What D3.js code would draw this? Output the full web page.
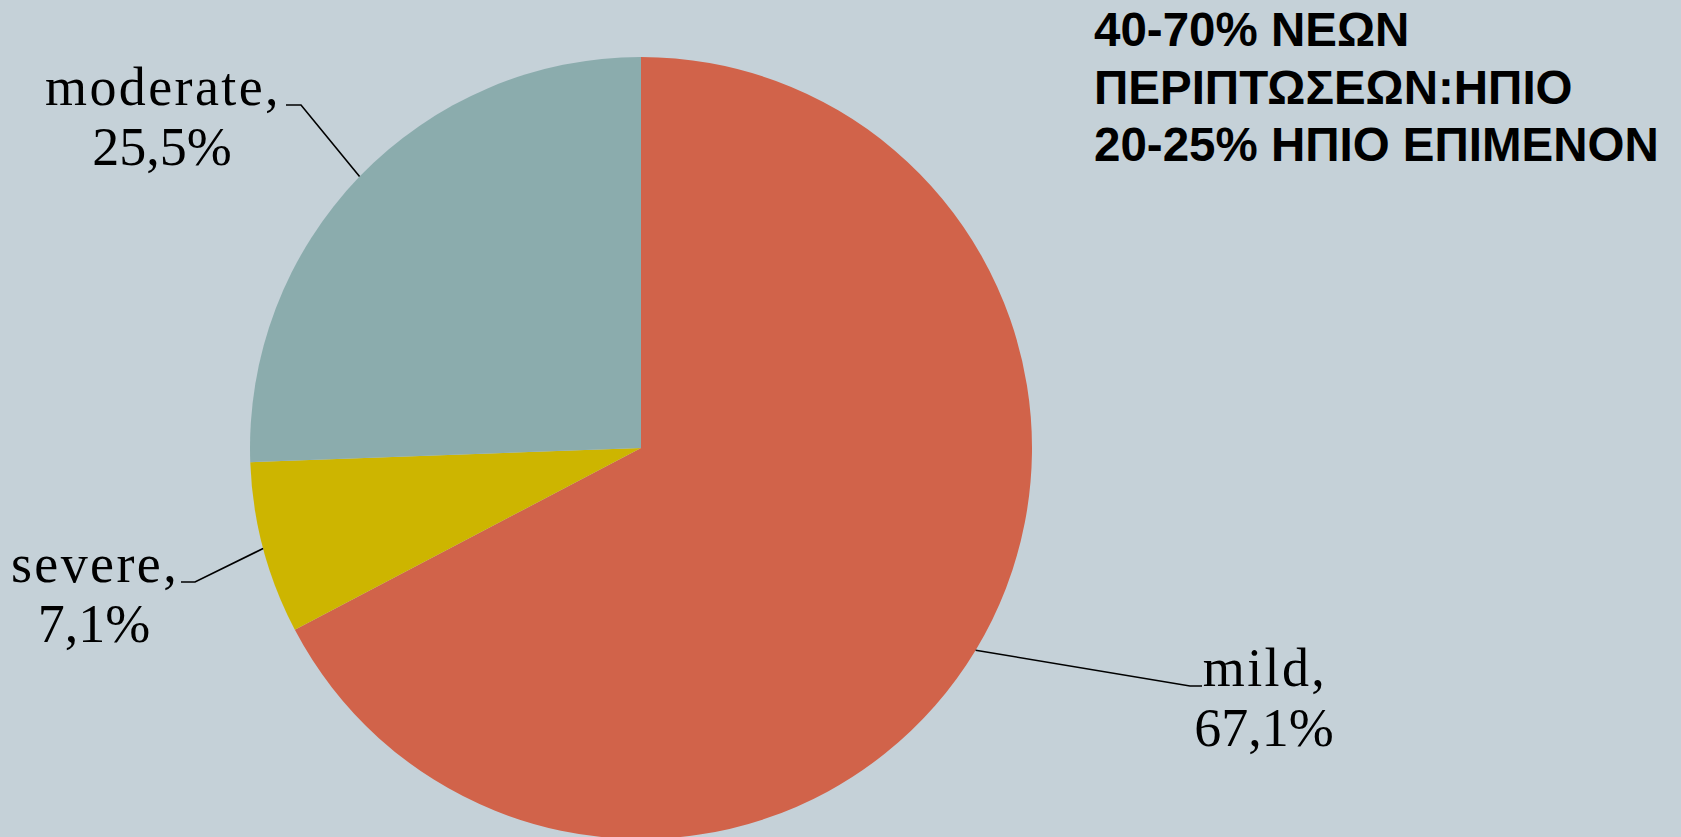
<!DOCTYPE html>
<html>
<head>
<meta charset="utf-8">
<script src="https://cdn.jsdelivr.net/npm/d3@7"></script>
<style>
  html, body { margin: 0; padding: 0; background: #c5d1d8; }
  svg { display: block; }
</style>
</head>
<body>
<div id="chart"></div>
<script>
// Severity breakdown
const categories = ["mild", "severe", "moderate"];
const values = [67.1, 7.1, 25.5];
const valueLabels = ["67,1%", "7,1%", "25,5%"];
const sliceColors = ["#d1634a", "#cdb500", "#8bacad"];
const noteLines = ["40-70% ΝΕΩΝ", "ΠΕΡΙΠΤΩΣΕΩΝ:ΗΠΙΟ", "20-25% ΗΠΙΟ ΕΠΙΜΕΝΟΝ"];

const W = 1681, H = 837;
const cx = 641, cy = 448, R = 391;

// label layout: text centre x, first-line baseline y, and the elbow/end of the leader
const labelLayout = {
  mild:     { x: 1264, y: 686, elbowX: 1190, endX: 1202 },
  severe:   { x: 94,   y: 582, elbowX: 195,  endX: 181 },
  moderate: { x: 162,  y: 105, elbowX: 301,  endX: 286 }
};
const labelFont = 54, labelGap = 60;

const svg = d3.select("#chart").append("svg")
  .attr("width", W).attr("height", H);

svg.append("rect").attr("width", W).attr("height", H).attr("fill", "#c5d1d8");

const pie = d3.pie().sort(null).value(d => d.value);
const data = pie(categories.map((c, i) => ({ name: c, value: values[i], label: valueLabels[i], color: sliceColors[i] })));

const arc = d3.arc().innerRadius(0).outerRadius(R);

const g = svg.append("g").attr("transform", `translate(${cx},${cy})`);

g.selectAll("path.slice").data(data).join("path")
  .attr("class", "slice")
  .attr("d", arc)
  .attr("fill", d => d.data.color);

// leader lines from the slice's outer edge to the label
const edge = d3.arc().innerRadius(R).outerRadius(R);
data.forEach(d => {
  const L = labelLayout[d.data.name];
  const [px, py] = edge.centroid(d);
  svg.append("polyline")
    .attr("points", [[px + cx, py + cy], [L.elbowX, L.y], [L.endX, L.y]].map(p => p.join(",")).join(" "))
    .attr("fill", "none")
    .attr("stroke", "#000")
    .attr("stroke-width", 1.6);
});

// category labels: name on the first line, share on the second
data.forEach(d => {
  const L = labelLayout[d.data.name];
  const t = svg.append("text")
    .attr("text-anchor", "middle")
    .attr("font-family", "'Liberation Serif', 'DejaVu Serif', serif")
    .attr("font-size", labelFont)
    .attr("fill", "#000");
  t.append("tspan").attr("x", L.x + 1).attr("y", L.y)
    .attr("letter-spacing", 2.4)
    .text(d.data.name + ",");
  t.append("tspan").attr("x", L.x).attr("y", L.y + labelGap).text(d.data.label);
});

// note text, top right
const note = svg.append("text")
  .attr("font-family", "'Liberation Sans', Arial, sans-serif")
  .attr("font-weight", "bold")
  .attr("font-size", 47.5)
  .attr("fill", "#000");
noteLines.forEach((line, i) => {
  note.append("tspan").attr("x", 1094).attr("y", 46 + i * 57.5).text(line);
});
</script>
</body>
</html>
